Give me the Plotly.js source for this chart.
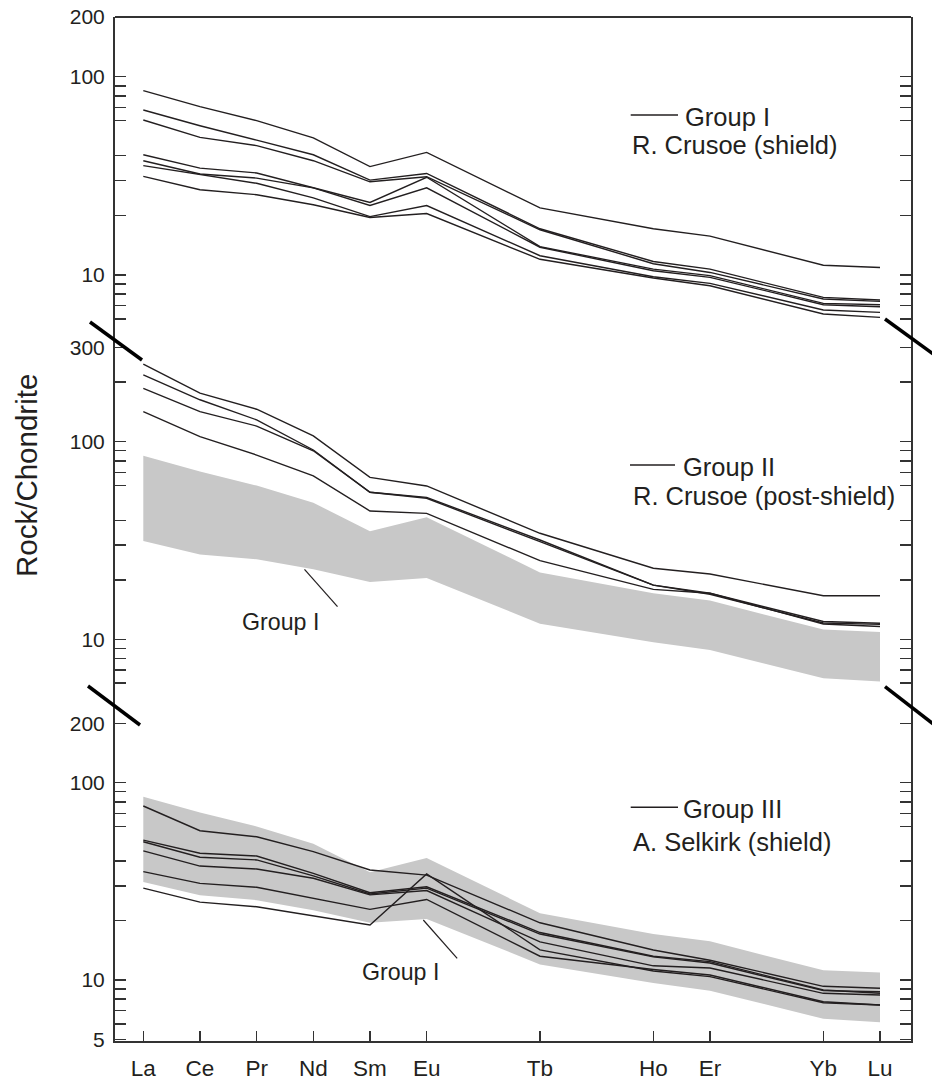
<!DOCTYPE html>
<html>
<head>
<meta charset="utf-8">
<script src="https://cdn.plot.ly/plotly-3.0.1.min.js"></script>
<style>html,body{margin:0;padding:0;background:#fff;}#chart{width:932px;height:1080px;}</style>
</head>
<body>
<div id="chart"></div>
<script>
// REE series order on the x axis (Pm omitted); Gd, Dy, Tm keep their slots but are unlabeled
const elementsAll = ['La','Ce','Pr','Nd','Sm','Eu','Gd','Tb','Dy','Ho','Er','Tm','Yb','Lu'];
const elements = ['La','Ce','Pr','Nd','Sm','Eu','Tb','Ho','Er','Yb','Lu'];

// Group I – R. Crusoe (shield)
const g1a = [85.0, 70.6, 60.0, 49.1, 35.2, 41.5, 21.8, 17.1, 15.7, 11.2, 10.9];
const g1b = [67.9, 56.6, 47.9, 40.4, 30.1, 32.5, 17.1, 11.7, 10.7, 7.71, 7.48];
const g1c = [60.5, 49.4, 44.9, 37.7, 29.5, 31.3, 16.9, 11.4, 10.3, 7.57, 7.36];
const g1d = [40.4, 34.6, 32.7, 27.5, 23.2, 31.1, 13.9, 10.7, 9.92, 7.19, 7.08];
const g1e = [37.7, 32.3, 30.8, 27.5, 22.4, 27.5, 13.8, 10.5, 9.73, 7.08, 6.92];
const g1f = [35.6, 32.0, 29.0, 24.5, 19.7, 22.4, 12.5, 9.80, 9.07, 6.66, 6.48];
const g1g = [31.4, 26.9, 25.4, 22.6, 19.5, 20.4, 12.0, 9.66, 8.83, 6.36, 6.11];

// Group II – R. Crusoe (post-shield)
const g2a = [247, 176, 146, 107, 66.0, 59.7, 34.4, 22.9, 21.4, 16.6, 16.6];
const g2b = [218, 163, 129, 90.8, 55.5, 52.3, 31.8, 18.8, 17.1, 12.3, 12.05];
const g2c = [186, 142, 120, 90.0, 55.5, 51.7, 31.2, 18.8, 16.9, 12.1, 11.9];
const g2d = [142, 106, 85.6, 67.1, 44.6, 43.4, 25.0, 17.9, 17.1, 11.95, 11.6];

// Group III – A. Selkirk (shield)
const g3a = [76.2, 57.1, 53.2, 44.7, 36.1, 34.0, 19.5, 14.2, 12.6, 9.29, 9.08];
const g3b = [51.2, 43.9, 42.5, 34.7, 27.7, 29.7, 17.4, 13.2, 12.4, 8.90, 8.56];
const g3c = [50.2, 41.9, 40.6, 33.7, 27.3, 29.2, 17.1, 13.1, 12.2, 8.83, 8.72];
const g3d = [45.1, 37.8, 36.5, 32.8, 27.0, 28.4, 15.6, 11.8, 11.5, 8.56, 8.39];
const g3e = [35.4, 30.9, 29.5, 25.9, 22.8, 25.6, 13.2, 11.3, 10.6, 7.76, 7.47];
const g3f = [29.2, 24.8, 23.5, 21.1, 19.0, 34.5, 14.2, 11.1, 10.4, 7.67, 7.47];

// y tick values / labels per panel
const ticksTop = [200,100,90,80,70,60,40,30,20,10,9,8,7,6];
const labelsTop = ['200','100','','','','','','','','10','','','',''];
const ticksMid = [300,200,100,90,80,70,60,40,30,20,10,9,8,7,6];
const labelsMid = ['300','','100','','','','','','','','10','','','',''];
const ticksBot = [200,100,90,80,70,60,40,30,20,10,9,8,7,6,5];
const labelsBot = ['200','100','','','','','','','','10','','','','','5'];

const groupI = [g1a, g1b, g1c, g1d, g1e, g1f, g1g];
const groupII = [g2a, g2b, g2c, g2d];
const groupIII = [g3a, g3b, g3c, g3d, g3e, g3f];

// Group I envelope (grey field)
const g1min = elements.map((_, i) => Math.min(...groupI.map(s => s[i])));
const g1max = elements.map((_, i) => Math.max(...groupI.map(s => s[i])));

const INK = '#231f20';
const AX = '#333333';
const GREY = 'rgb(200,200,200)';

function lineTrace(y, ya) {
  return {x: elements, y: y, yaxis: ya, xaxis: 'x', type: 'scatter', mode: 'lines',
          line: {color: INK, width: 1.4}, hoverinfo: 'skip'};
}
function band(ya) {
  return [
    {x: elements, y: g1min, yaxis: ya, xaxis: 'x', type: 'scatter', mode: 'lines',
     line: {width: 0, color: GREY}, hoverinfo: 'skip'},
    {x: elements, y: g1max, yaxis: ya, xaxis: 'x', type: 'scatter', mode: 'lines',
     fill: 'tonexty', fillcolor: GREY, line: {width: 0, color: GREY}, hoverinfo: 'skip'}
  ];
}

const traces = [];
groupI.forEach(s => traces.push(lineTrace(s, 'y')));
band('y2').forEach(t => traces.push(t));
groupII.forEach(s => traces.push(lineTrace(s, 'y2')));
band('y3').forEach(t => traces.push(t));
groupIII.forEach(s => traces.push(lineTrace(s, 'y3')));

function yax(domain, range, tv, tt) {
  return {
    type: 'log', domain: domain, range: range, anchor: 'x',
    tickmode: 'array', tickvals: tv, ticktext: tt,
    ticks: 'inside', ticklen: 11, tickwidth: 1.5, tickcolor: AX,
    showline: true, linecolor: AX, linewidth: 2, mirror: 'ticks',
    showgrid: false, zeroline: false,
    tickfont: {size: 21, color: INK}, ticklabelstandoff: 4
  };
}

// pixel -> paper helpers for decorations
const L = 115, R = 21, T = 17, B = 39, W = 932, H = 1080;
const PW = W - L - R, PH = H - T - B;
const px = v => (v - L) / PW;
const py = v => (H - B - v) / PH;

function seg(x0, y0, x1, y1, w, c) {
  return {type: 'line', xref: 'paper', yref: 'paper',
          x0: px(x0), y0: py(y0), x1: px(x1), y1: py(y1),
          line: {color: c || INK, width: w}};
}

const shapes = [
  seg(115, 17, 911, 17, 2, AX),            // top frame
  seg(90, 322, 142, 360, 3.5, '#000'),     // axis-break marks
  seg(885, 319, 945, 362.6, 3.5, '#000'),
  seg(88, 686, 140, 725, 3.5, '#000'),
  seg(885, 686.7, 945, 733, 3.5, '#000'),
  seg(630.7, 115, 678, 115, 1.4),          // legend strokes
  seg(630, 465, 675, 465, 1.4),
  seg(630.7, 807.3, 678, 807.3, 1.4),
  seg(304.5, 569.3, 337.5, 606.7, 1.2),    // leaders to the Group I field
  seg(423.3, 920, 457.2, 958.3, 1.2)
];

function txt(t, x, y, size, extra) {
  return Object.assign({text: t, xref: 'paper', yref: 'paper', x: px(x), y: py(y),
    xanchor: 'left', yanchor: 'middle', showarrow: false,
    font: {size: size, color: INK}}, extra || {});
}

const annotations = [
  txt('Group I', 683, 117, 25.5),
  txt('R. Crusoe (shield)', 630, 145.2, 25.5),
  txt('Group II', 681, 466.8, 25.5),
  txt('R. Crusoe (post-shield)', 630.5, 495.8, 25.5),
  txt('Group III', 681, 809.2, 25.5),
  txt('A. Selkirk (shield)', 630.5, 841.7, 25.5),
  txt('Group I', 240, 621.7, 23.2),
  txt('Group I', 360, 971.7, 23.2),
  txt('Rock/Chondrite', 26, 476, 29.5, {xanchor: 'center', textangle: -90})
];

const layout = {
  width: W, height: H,
  margin: {l: L, r: R, t: T, b: B, pad: 0},
  paper_bgcolor: '#ffffff', plot_bgcolor: '#ffffff',
  showlegend: false,
  font: {family: '"Liberation Sans", Arial, Helvetica, sans-serif', color: INK},
  xaxis: {
    type: 'category', categoryorder: 'array', categoryarray: elementsAll,
    range: [-0.4994, 13.547], anchor: 'y3',
    tickmode: 'array', tickvals: elements, ticktext: elements,
    ticks: 'inside', ticklen: 10, tickwidth: 1.5, tickcolor: AX,
    showline: true, linecolor: AX, linewidth: 2,
    showgrid: false, zeroline: false,
    tickfont: {size: 22.5, color: INK}, ticklabelstandoff: 6
  },
  yaxis: yax([0.68457, 1], [0.6721, 2.30103], ticksTop, labelsTop),
  yaxis2: yax([0.33301, 0.68457], [0.6928, 2.5147], ticksMid, labelsMid),
  yaxis3: yax([0, 0.33301], [0.6908, 2.4192], ticksBot, labelsBot),
  shapes: shapes,
  annotations: annotations
};

Plotly.newPlot('chart', traces, layout, {displayModeBar: false, staticPlot: true});
</script>
</body>
</html>
